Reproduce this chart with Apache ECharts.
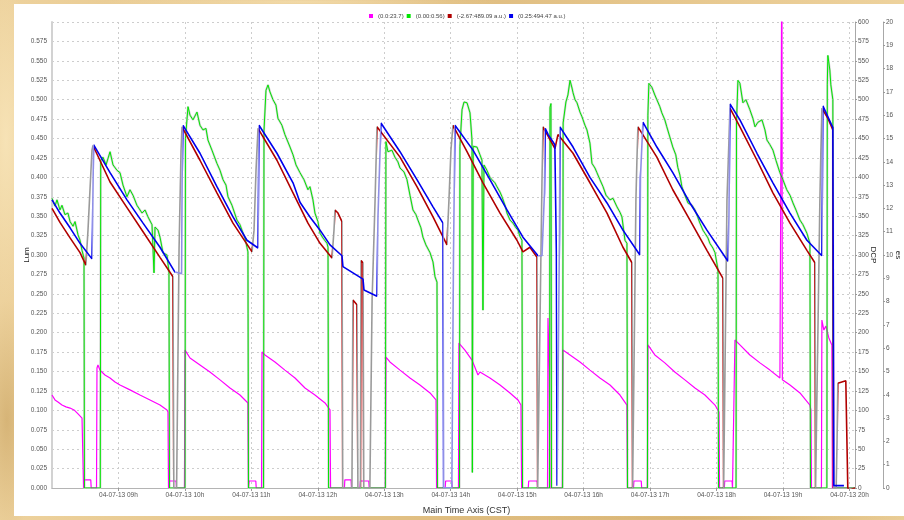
<!DOCTYPE html>
<html>
<head>
<meta charset="utf-8">
<script src="https://cdn.jsdelivr.net/npm/echarts@6.0.0/dist/echarts.min.js"></script>
<style>
  html, body { margin: 0; padding: 0; }
  body {
    width: 904px; height: 520px; overflow: hidden; position: relative;
    background-color: #e4c48a;
    background-image:
      radial-gradient(ellipse 30px 160px at 6px 140px, rgba(250,232,190,0.75), rgba(250,232,190,0)),
      radial-gradient(ellipse 30px 120px at 7px 420px, rgba(196,156,88,0.55), rgba(196,156,88,0)),
      radial-gradient(ellipse 200px 6px at 300px 2px, rgba(248,228,182,0.7), rgba(248,228,182,0)),
      radial-gradient(ellipse 260px 6px at 700px 518px, rgba(205,165,95,0.6), rgba(205,165,95,0)),
      linear-gradient(90deg, rgba(255,236,192,0.35), rgba(210,168,98,0.25) 50%, rgba(255,236,192,0.35));
  }
  #panel { position: absolute; left: 14px; top: 4px; width: 890px; height: 512px; background: #ffffff; }
  #chart { position: absolute; left: 0; top: 0; width: 904px; height: 520px; }
</style>
</head>
<body>
<div id="panel"></div>
<div id="chart"></div>
<script>
// Time values are minutes after midnight on the logged day.
const dateStamp = '04-07-13';
const legendNames = ['(0.0:23.7)', '(0.00:0.56)', '(-2.67:489.09 a.u.)', '(0.25:494.47 a.u.)'];
const legendColors = ['#ff00ff', '#00e600', '#b00000', '#0000ee'];
const axisNames = { x: 'Main Time Axis (CST)', lum: 'Lum', dcp: 'DCP', es: 'es' };

// es channel (right outer axis, 0..20)
const esSeries = [
  [480,3.99],[481.8,3.99],[482.7,3.78],[485.4,3.69],[489,3.56],[492.6,3.48],[496.3,3.43],[499.9,3.35],[503.5,3.18],[507.1,3.0],[508,2.92],
  [508.5,0],[509,0.35],[515,0.35],[515.4,0],[520.2,0],
  [520.6,5.15],[521.5,5.28],[523.3,5.06],[527.8,4.85],[532.4,4.72],[536.9,4.55],[541.4,4.42],[550.4,4.21],[559.4,3.99],[568.5,3.78],[577.5,3.56],[583.8,3.35],[584.7,3.26],
  [585.2,0],[586,0.3],[592,0.3],[592.4,0],[599.6,0],
  [600.1,5.92],[604.6,5.58],[613.6,5.28],[622.6,4.98],[631.7,4.64],[640.7,4.29],[649.7,3.99],[656.9,3.65],
  [657.4,0],[658,0.3],[664,0.3],[664.4,0],[669.2,0],
  [669.6,5.84],[672.3,5.71],[681.3,5.41],[690.3,5.06],[699.4,4.72],[708.4,4.29],[717.4,3.99],[726.5,3.65],[731,3.35],
  [731.5,0],[744,0],[744.4,0.35],[750,0.35],[750.4,0],[758,0],[758.4,0.3],[766,0.3],[766.4,0],[781,0],
  [781.5,5.62],[785.1,5.41],[794.2,5.06],[803.2,4.72],[812.2,4.42],[821.3,4.08],[826.7,3.78],
  [827.2,0],[835,0],[835.4,0.3],[841,0.3],[841.4,0],[847,0],
  [847.4,6.22],[852.8,5.92],[859.2,5.49],[864.6,4.85],[866.4,4.98],[875.4,4.72],[884.5,4.42],[893.5,4.08],[900.7,3.78],[903.4,3.56],
  [904,0],[910,0],[910.4,0.3],[918,0.3],[918.4,0],[927.4,0],[927.8,7.3],[929,5.0],[929.5,0],[940.8,0],
  [941.3,5.92],[947.7,5.71],[956.7,5.41],[965.7,5.06],[974.7,4.72],[983.8,4.42],[992.8,3.99],[999.1,3.56],
  [999.6,0],[1005,0],[1005.4,0.3],[1012,0.3],[1012.4,0],[1017.6,0],
  [1018,6.14],[1024.3,5.71],[1033.3,5.37],[1042.3,4.98],[1051.4,4.64],[1060.5,4.29],[1069.5,3.99],[1078.6,3.56],[1082.2,3.26],
  [1082.7,0],[1087,0],[1087.4,0.3],[1094,0.3],[1094.4,0],[1096.2,0],
  [1096.6,6.35],[1101.1,6.14],[1110.1,5.71],[1119.2,5.37],[1128.2,5.06],[1137.2,4.72],[1138.6,4.7],[1139,23.7],[1139.4,4.65],[1146.3,4.42],[1155.3,4.08],[1164.3,3.56],[1165.2,3.35],
  [1165.7,0],[1174.7,0],
  [1175.1,7.21],[1176.9,6.78],[1178.7,6.95],[1181.4,6.44],[1184.1,6.14],
  [1184.6,0],[1205,0]
];

// Lum channel (left axis)
const lumSeries = [
  [480,.373],[482.7,.363],[484.5,.371],[487.2,.358],[489,.364],[491.7,.352],[494.4,.354],[496.3,.343],[499,.337],[500.8,.343],[503.5,.326],[505.3,.319],[507.1,.306],[508.9,.296],
  [509.3,0],[523.6,0],
  [524,.422],[526,.426],[528.8,.416],[532.4,.433],[535.1,.416],[538.7,.409],[541.4,.406],[544.1,.390],[547.7,.375],[550.4,.384],[553.1,.377],[556.7,.364],[561.3,.354],[564,.358],[566.7,.349],[570.3,.339],[572.1,.277],[573,.336],[575.7,.332],[577.5,.323],[580.2,.303],[583.8,.300],[585.6,.278],
  [586.1,0],[600.1,0],
  [600.5,.45],[602.8,.491],[604.6,.480],[607.3,.474],[610.9,.484],[613.6,.467],[616.3,.461],[619,.463],[620.8,.448],[624.4,.435],[628.9,.418],[631.7,.409],[634.4,.397],[637.1,.390],[638.9,.375],[642.5,.364],[647,.345],[649.7,.339],[651.5,.332],[654.2,.322],[656,.310],[656.9,.304],
  [657.4,0],[671,0],
  [671.4,.46],[673.2,.512],[675,.519],[676.8,.510],[679.5,.500],[682.2,.493],[684,.476],[687.6,.467],[690.3,.455],[694.9,.439],[697.6,.429],[700.3,.416],[703.9,.406],[707.5,.397],[711.1,.384],[712.9,.388],[715.6,.371],[717.4,.354],[720.1,.343],[722,.328],[724.6,.322],[728.3,.315],[729.2,.310],
  [729.7,0],[781,0],
  [781.5,.446],[783.3,.433],[786.9,.435],[789.6,.426],[792.3,.420],[794.2,.412],[797.8,.407],[800.5,.397],[803.2,.377],[805.9,.358],[808.6,.352],[810.4,.345],[813.1,.335],[814.9,.323],[817.6,.313],[821.3,.303],[824,.291],[825.8,.272],[827.6,.265],
  [828,0],[847.9,0],
  [848.3,.44],[850.2,.487],[852,.497],[854.7,.496],[857.4,.483],[859.2,.448],[859.5,.02],[860.3,.44],[863.7,.439],[866.4,.429],[868.2,.422],[869.1,.229],[870,.416],[872.7,.409],[875.4,.400],[877.2,.397],[879.9,.393],[881.7,.388],[884.5,.381],[886.3,.375],[889,.364],[890.8,.354],[893.5,.345],[896.2,.341],[898.9,.335],[900.7,.332],[902.5,.324],[904.3,.319],
  [904.8,0],[929.2,0],[929.6,.49],[930.5,.495],[931,0],[941,0],
  [941.5,.47],[944,.497],[945.8,.506],[947.7,.525],[949.5,.515],[950.4,.509],[952.2,.500],[954,.496],[956.7,.484],[958.5,.478],[961.2,.467],[963,.461],[965.7,.444],[967.5,.418],[970.2,.412],[972,.406],[974.7,.397],[977.5,.388],[980.2,.377],[983.8,.371],[986.5,.373],[990.1,.362],[992.8,.355],[994.6,.349],[997.3,.319],[999.1,.315],
  [999.6,0],[1017.6,0],
  [1018,.48],[1018.9,.521],[1021.6,.516],[1024.3,.506],[1026.1,.500],[1028.8,.491],[1030.6,.483],[1033.3,.474],[1035.1,.465],[1037.8,.452],[1040.5,.439],[1043.2,.429],[1045,.413],[1046.9,.403],[1048.7,.388],[1051.4,.377],[1054.2,.367],[1057.8,.364],[1060.5,.358],[1063.2,.348],[1065,.341],[1067.7,.332],[1069.5,.328],[1072.2,.322],[1074,.315],[1076.7,.309],[1078.6,.303],[1081.3,.281],
  [1081.8,0],[1097.6,0],
  [1098,.47],[1099.3,.525],[1101.1,.521],[1103.8,.496],[1106.5,.500],[1110.1,.487],[1112.8,.476],[1114.7,.465],[1117.4,.471],[1121,.474],[1123.7,.461],[1125.5,.448],[1128.2,.442],[1130.9,.435],[1133.6,.422],[1137.2,.406],[1139.9,.397],[1143.4,.384],[1146.3,.377],[1149,.367],[1151.7,.358],[1155.3,.345],[1158,.339],[1161.6,.328],[1164.3,.315],
  [1164.8,0],[1179.6,0],
  [1180,.52],[1180.5,.557],[1182.3,.538],[1183.2,.519],[1185,.500],
  [1185.5,0],[1205,0]
];

// DCP channel, red trace (right inner axis)
const dcpRed = [
  [480,360],[487.2,342],[496.3,322],[505.3,303],[510.6,287],
  [512.5,332],[514.3,384],[516.1,435],[517,441],
  [532.4,394],[547.7,361],[562.2,330],[577.5,297],[589.2,272],
  [590,0],[592.5,0],[594.7,306],[596.5,435],[597.4,465],
  [598.3,467],[613.6,422],[628.9,380],[643.4,341],[660.6,304],
  [662.4,332],[664.2,409],[666,463],
  [683.1,422],[697.6,380],[711.1,341],[722,315],[732.8,296],
  [734.6,332],[735.5,358],[738.2,354],[741.8,343],
  [742.5,0],[750.8,0],[751.7,242],[755.3,236],[756.2,0],[758.5,0],[759,293],[760.8,290],[761.5,0],[767,0],
  [769,242],[771.7,371],[773.4,465],
  [794.2,426],[809.5,388],[824,349],[836.6,313],
  [838.4,371],[840.2,435],[842,467],
  [854.7,433],[869.1,393],[884.5,354],[899.8,319],[905.2,304],[911.5,310],[917.9,297],
  [918.5,0],[920,0],[921.5,306],[922.4,397],[923.3,465],
  [925.1,463],[934.1,437],[936.8,455],[938.6,455],
  [950.4,431],[965.7,393],[981.1,354],[995.5,310],[1003.6,290],
  [1004.2,0],[1005.6,0],[1007.2,371],[1008.1,422],[1009,465],
  [1026.1,426],[1040.5,384],[1056,345],[1071.3,306],[1085.8,270],
  [1086.4,0],[1088,0],[1089.4,371],[1091.2,448],[1092.1,489.09],
  [1101.1,465],[1116.5,422],[1130.9,380],[1146.3,341],[1161.6,306],[1168.8,290],
  [1169.4,0],[1171,0],[1173.3,371],[1174.2,435],[1175.1,489],
  [1180.5,476],[1185,461],
  [1185.6,0],[1188,0],[1188.8,60],[1189.5,135],[1196.7,138],[1197.6,139],
  [1198.5,0],[1200,-2.67],[1205,0]
];

// DCP channel, blue trace (right inner axis)
const dcpBlue = [
  [480,371],[487.2,354],[496.3,335],[505.3,315],[516.1,295],
  [516.6,335],[517.5,442],
  [532.4,406],[547.7,371],[562.2,341],[577.5,310],[591,278],
  [597,276],[597.5,400],[598.3,467],
  [613.6,431],[628.9,388],[643.4,349],[656,319],[666,309],
  [666.9,467],
  [683.1,431],[697.6,393],[703.9,368],[712.9,349],[722,332],[731,313],[741.8,299],
  [742.7,285],[760.8,269],[761.7,255],[773.4,247],
  [774.3,349],[777,470],
  [794.2,433],[809.5,397],[824,362],[833,341],
  [833.6,0.25],[841,0.25],[842.5,300],[843.8,467],
  [860.1,435],[875.4,397],[890.8,358],[905.2,323],[918.8,299],
  [922.4,299],[924.6,380],[925.3,463],[928,455],[934,442],[935.4,300],[936,3],[937.6,3],[938.2,330],[938.6,465],
  [950.4,439],[965.7,400],[981.1,367],[995.5,332],[1010.8,300],
  [1011.3,400],[1013.5,471],
  [1026.1,439],[1040.5,406],[1056,367],[1071.3,332],[1090.3,292],
  [1091.2,350],[1092.1,494.47],
  [1101.1,474],[1116.5,431],[1130.9,393],[1146.3,354],[1161.6,319],[1175.1,299],
  [1175.6,400],[1176,492],
  [1185,464],
  [1185.9,3],[1195,3]
];

// Spans where the traces are drawn in their muted (transition) colour
const redMutedSpans = [[510.7,517],[589.3,597.4],[660.7,666],[732.9,735.4],[741.9,751.6],[755.4,758.9],[760.9,773.4],[836.7,842],[918,923.3],[1003.7,1009],[1085.9,1092.1],[1168.9,1175.1],[1185.1,1189.5]];
const blueMutedSpans = [[516.2,517.5],[591.1,598.3],[666.1,666.9],[773.5,777],[833.1,843.8],[918.9,925.3],[935.5,938.6],[1010.9,1013.5],[1090.4,1092.1],[1175.2,1176]];

const FONT = '"Liberation Sans", Arial, sans-serif';
const gridLine = { show: true, lineStyle: { color: '#cdcdcd', type: [2, 3], width: 1 } };

function hourLabel(v) {
  if (v % 60 !== 0) return '';
  const h = String(v / 60).padStart(2, '0');
  return dateStamp + ' ' + h + 'h';
}

function mutedPieces(spans, color) {
  return spans.map(s => ({ gte: s[0], lte: s[1], color: color }));
}

const chart = echarts.init(document.getElementById('chart'), null, { renderer: 'canvas' });

const option = {
  animation: false,
  backgroundColor: 'transparent',
  textStyle: { fontFamily: FONT },
  grid: { left: 52, right: 49, top: 22, bottom: 32, containLabel: false, outerBoundsMode: 'none' },
  legend: {
    left: 364, top: 8,
    icon: 'rect', itemWidth: 4, itemHeight: 4, itemGap: 3,
    textStyle: { fontSize: 6, color: '#444', fontFamily: FONT },
    data: legendNames.map((n, i) => ({ name: n, itemStyle: { color: legendColors[i] } }))
  },
  xAxis: {
    type: 'value', min: 480, max: 1205, interval: 60,
    name: axisNames.x, nameLocation: 'middle', nameGap: 18, nameMoveOverlap: false,
    nameTextStyle: { fontSize: 9, color: '#333', padding: [0, 0, 0, 26] },
    axisLine: { show: true, onZero: false, lineStyle: { color: '#b4b4b4', width: 1 } },
    axisTick: { show: true, length: 3, lineStyle: { color: '#999' } },
    axisLabel: { fontSize: 6.5, color: '#555', margin: 4, showMinLabel: false, showMaxLabel: false, formatter: hourLabel },
    splitLine: gridLine
  },
  yAxis: [
    {
      type: 'value', position: 'left', min: 0, max: 0.6, interval: 0.025,
      name: axisNames.lum, nameLocation: 'middle', nameGap: 21, nameRotate: 90, nameMoveOverlap: false,
      nameTextStyle: { fontSize: 8, color: '#222' },
      axisLine: { show: true, lineStyle: { color: '#d2d2d2', width: 2 } },
      axisTick: { show: false },
      axisLabel: { fontSize: 6.5, color: '#555', margin: 5, showMaxLabel: false, formatter: v => v.toFixed(3) },
      splitLine: gridLine
    },
    {
      type: 'value', position: 'right', offset: 0, min: 0, max: 600, interval: 25,
      name: axisNames.dcp, nameLocation: 'middle', nameGap: 14, nameRotate: -90, nameMoveOverlap: false,
      nameTextStyle: { fontSize: 8, color: '#222' },
      axisLine: { show: true, lineStyle: { color: '#a8a8a8', width: 1 } },
      axisTick: { show: true, length: 2, lineStyle: { color: '#999' } },
      axisLabel: { fontSize: 6.5, color: '#555', margin: 3 },
      splitLine: { show: false }
    },
    {
      type: 'value', position: 'right', offset: 28, min: 0, max: 20, interval: 1,
      name: axisNames.es, nameLocation: 'middle', nameGap: 11, nameRotate: -90, nameMoveOverlap: false,
      nameTextStyle: { fontSize: 8, color: '#222' },
      axisLine: { show: true, lineStyle: { color: '#a8a8a8', width: 1 } },
      axisTick: { show: true, length: 2, lineStyle: { color: '#999' } },
      axisLabel: { fontSize: 6.5, color: '#555', margin: 3 },
      splitLine: { show: false }
    }
  ],
  visualMap: [
    { type: 'piecewise', show: false, dimension: 0, seriesIndex: 3,
      pieces: mutedPieces(redMutedSpans, '#9a9a9a'), outOfRange: { color: legendColors[2] } },
    { type: 'piecewise', show: false, dimension: 0, seriesIndex: 4,
      pieces: mutedPieces(blueMutedSpans, '#8f8fe6'), outOfRange: { color: legendColors[3] } }
  ],
  series: [
    { name: legendNames[0], type: 'line', yAxisIndex: 2, data: esSeries, symbol: 'none',
      lineStyle: { width: 1.2, color: legendColors[0] }, itemStyle: { color: legendColors[0] }, z: 3 },
    { name: 'lum-trace', type: 'line', yAxisIndex: 0, data: lumSeries, symbol: 'none', silent: true,
      lineStyle: { width: 2.2, color: '#d0d0d0' }, itemStyle: { color: '#d0d0d0' }, z: 2 },
    { name: legendNames[1], type: 'line', yAxisIndex: 0, data: lumSeries, symbol: 'none',
      lineStyle: { width: 1, color: legendColors[1] }, itemStyle: { color: legendColors[1] }, z: 4 },
    { name: legendNames[2], type: 'line', yAxisIndex: 1, data: dcpRed, symbol: 'none',
      lineStyle: { width: 1.6 }, itemStyle: { color: legendColors[2] }, z: 5 },
    { name: legendNames[3], type: 'line', yAxisIndex: 1, data: dcpBlue, symbol: 'none',
      lineStyle: { width: 1.6 }, itemStyle: { color: legendColors[3] }, z: 6 }
  ]
};

chart.setOption(option);
</script>
</body>
</html>
